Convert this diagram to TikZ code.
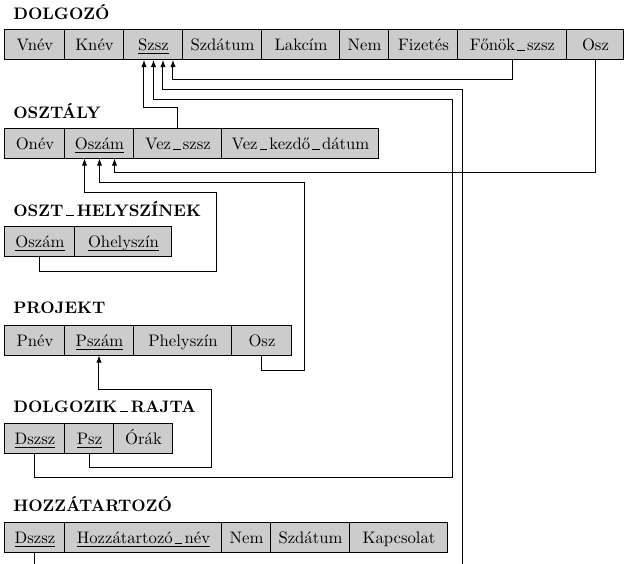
\documentclass[tikz,border=0pt]{standalone}
\usetikzlibrary{arrows.meta,calc}
\newcommand\ukey[1]{\setbox0\hbox{#1}\rlap{\rule[-1.9pt]{\wd0}{0.4pt}}\box0}
\newcommand\us{\kern1.3pt\rule[-0.2pt]{0.45em}{0.45pt}\kern1.3pt}
\newcommand\bus{\kern1.5pt\rule[-0.2pt]{0.5em}{0.65pt}\kern1.5pt}
\newcommand\rcell[5]{%
  \node[cellbox, minimum width={(#3-#2)*0.6pt}] (#1) at ({(#2+#3)/2},{#4+15}) {#5};}
\begin{document}
\begin{tikzpicture}[x=0.6pt,y=-0.6pt,
  cellbox/.style={draw=black, line width=0.6pt, fill=black!20, minimum height=18pt,
    inner sep=0pt, text height=7.5pt, text depth=0pt, font=\fontsize{10}{12}\selectfont},
  tabtitle/.style={anchor=base west, inner sep=0pt, font=\fontsize{10}{12}\selectfont\bfseries},
  conn/.style={draw=black, line width=0.6pt},
  arr/.style={conn, -{Latex[length=4.2pt,width=3.2pt]}}]
\useasboundingbox (0,0) rectangle (624,564);
\clip (0,0) rectangle (624,564);
% DOLGOZO
\node[tabtitle] (tDolg) at (13,19) {DOLGOZÓ};
\rcell{dVnev}{5}{65}{29.5}{Vnév}
\rcell{dKnev}{65}{124}{29.5}{Knév}
\rcell{dSzsz}{124}{183}{29.5}{\ukey{Szsz}}
\rcell{dSzdat}{183}{262}{29.5}{Szdátum}
\rcell{dLak}{262}{340}{29.5}{Lakcím}
\rcell{dNem}{340}{389}{29.5}{Nem}
\rcell{dFiz}{389}{458}{29.5}{Fizetés}
\rcell{dFon}{458}{567}{29.5}{Főnök\us szsz}
\rcell{dOsz}{567}{624}{29.5}{Osz}
% OSZTALY
\node[tabtitle] (tOszt) at (13,118) {OSZTÁLY};
\rcell{oOnev}{5}{65}{128}{Onév}
\rcell{oOszam}{65}{134}{128}{\ukey{Oszám}}
\rcell{oVez}{134}{222}{128}{Vez\us szsz}
\rcell{oVezk}{222}{379}{128}{Vez\us kezdő\us dátum}
% OSZT_HELYSZINEK
\node[tabtitle] (tHely) at (13,216) {OSZT\bus HELYSZÍNEK};
\rcell{hOszam}{5}{75}{226.5}{\ukey{Oszám}}
\rcell{hOhely}{75}{172}{226.5}{\ukey{Ohelyszín}}
% PROJEKT
\node[tabtitle] (tProj) at (13,313.5) {PROJEKT};
\rcell{pPnev}{5}{65}{325}{Pnév}
\rcell{pPszam}{65}{134}{325}{\ukey{Pszám}}
\rcell{pPhely}{134}{232}{325}{Phelyszín}
\rcell{pOsz}{232}{292}{325}{Osz}
% DOLGOZIK_RAJTA
\node[tabtitle] (tDr) at (13,412) {DOLGOZIK\bus RAJTA};
\rcell{rDszsz}{5}{65}{423}{\ukey{Dszsz}}
\rcell{rPsz}{65}{114}{423}{\ukey{Psz}}
\rcell{rOrak}{114}{173}{423}{Órák}
% HOZZATARTOZO
\node[tabtitle] (tHoz) at (13,511) {HOZZÁTARTOZÓ};
\rcell{zDszsz}{5}{65}{522}{\ukey{Dszsz}}
\rcell{zNev}{65}{222}{522}{\ukey{Hozzátartozó\us név}}
\rcell{zNem}{222}{271}{522}{Nem}
\rcell{zSzdat}{271}{350}{522}{Szdátum}
\rcell{zKap}{350}{448}{522}{Kapcsolat}
% arrow targets
\coordinate (sz1) at ($(dSzsz.south)+(-9.5,0)$);
\coordinate (sz2) at ($(dSzsz.south)+(0,0)$);
\coordinate (sz3) at ($(dSzsz.south)+(9.5,0)$);
\coordinate (sz4) at ($(dSzsz.south)+(19.5,0)$);
\coordinate (os1) at ($(oOszam.south)+(-15,0)$);
\coordinate (os2) at ($(oOszam.south)+(0,0)$);
\coordinate (os3) at ($(oOszam.south)+(15,0)$);
\coordinate (ps1) at ($(pPszam.south)+(-0.5,0)$);
% connectors
\draw[arr] (dFon.south) -- ++(0,19.5) -| (sz4);
\draw[arr] (zDszsz.south) -- ++(0,40) -| (463,89) -| (sz3);
\draw[arr] (rDszsz.south) -- ++(0,24) -| (453,99) -| (sz2);
\draw[arr] (oVez.north) -- ++(0,-20) -| (sz1);
\draw[arr] (dOsz.south) -- ++(0,112.5) -| (os3);
\draw[arr] (pOsz.south) -- ++(0,14.5) -| (305,182) -| (os2);
\draw[arr] (hOszam.south) -- ++(0,14) -| (217,192) -| (os1);
\draw[arr] (rPsz.south) -- ++(0,14) -| (212,389) -| (ps1);
\end{tikzpicture}
\end{document}
